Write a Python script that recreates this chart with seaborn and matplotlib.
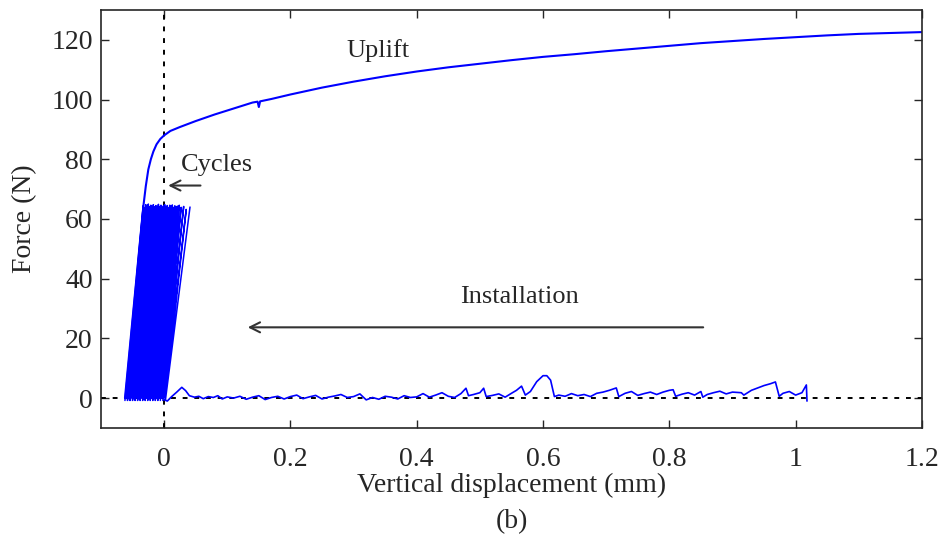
import numpy as np
import pandas as pd
import matplotlib
matplotlib.use("Agg")
import matplotlib.pyplot as plt
import seaborn as sns

# ---- Data ----
# Installation phase (displacement mm, force N)
inst_x = [0.000, 0.005, 0.012, 0.020, 0.028, 0.034, 0.040, 0.048, 0.055, 0.062, 0.070, 0.078,
          0.085, 0.092, 0.100, 0.110, 0.120, 0.130, 0.140, 0.150, 0.160, 0.170, 0.180, 0.190,
          0.200, 0.210, 0.220, 0.230, 0.240, 0.250, 0.260, 0.270, 0.280, 0.290, 0.300, 0.310,
          0.320, 0.330, 0.340, 0.350, 0.360, 0.370, 0.380, 0.390, 0.400, 0.410, 0.420, 0.430,
          0.440, 0.450, 0.460, 0.470, 0.478, 0.482, 0.490, 0.500, 0.506, 0.510, 0.520, 0.530,
          0.540, 0.550, 0.558, 0.566, 0.572, 0.580, 0.590, 0.600, 0.606, 0.612, 0.618, 0.625,
          0.635, 0.645, 0.655, 0.665, 0.675, 0.685, 0.695, 0.705, 0.716, 0.720, 0.730, 0.740,
          0.750, 0.760, 0.770, 0.780, 0.790, 0.800, 0.806, 0.810, 0.820, 0.830, 0.840, 0.850,
          0.853, 0.860, 0.870, 0.880, 0.890, 0.900, 0.914, 0.918, 0.930, 0.940, 0.950, 0.960,
          0.968, 0.974, 0.980, 0.990, 1.000, 1.010, 1.017, 1.018]
inst_y = [-0.5, -1.0, 0.5, 2.0, 3.6, 2.5, 0.8, 0.3, 0.6, -0.2, 0.5, 0.2,
          0.8, -0.3, 0.4, 0.0, 0.6, -0.4, 0.3, 0.8, -0.5, 0.2, 0.6, -0.3,
          0.5, 1.0, -0.2, 0.4, 0.9, -0.3, 0.3, 0.7, 1.2, 0.2, 0.5, 1.4,
          -0.6, 0.2, -0.4, 0.6, 0.3, -0.3, 0.8, 0.2, 0.4, 1.5, 0.3, 1.0,
          1.8, 0.6, 0.2, 1.5, 3.3, 0.8, 1.2, 1.8, 3.3, 0.5, 0.9, 1.4,
          0.3, 1.6, 2.6, 4.0, 1.0, 2.2, 5.5, 7.5, 7.5, 6.0, 0.5, 1.0,
          0.6, 1.5, 0.8, 1.2, 0.5, 1.6, 2.0, 2.6, 3.4, 0.5, 1.6, 2.2,
          0.9, 1.5, 2.0, 1.2, 2.0, 2.6, 2.8, 0.6, 1.3, 1.8, 1.0, 2.2,
          0.3, 1.2, 1.8, 2.3, 1.4, 2.0, 1.8, 1.0, 2.6, 3.4, 4.2, 4.8,
          5.4, 0.6, 1.6, 2.2, 1.0, 1.8, 4.4, -1.0]

# Cyclic loading: foot (force ~0) and peak (force ~64) displacements of each cycle
cyc_foot_x = [-0.062, -0.060, -0.058, -0.056, -0.054, -0.052, -0.050, -0.048, -0.046, -0.044,
              -0.042, -0.040, -0.038, -0.036, -0.034, -0.032, -0.030, -0.028, -0.026, -0.024,
              -0.022, -0.020, -0.018, -0.016, -0.014, -0.012, -0.010, -0.008, -0.006, -0.004,
              -0.002, 0.000, 0.002]
cyc_peak_x = [-0.033, -0.031, -0.029, -0.027, -0.025, -0.023, -0.021, -0.019, -0.017, -0.015,
              -0.013, -0.011, -0.009, -0.007, -0.005, -0.003, -0.001, 0.001, 0.003, 0.005,
              0.007, 0.009, 0.011, 0.013, 0.015, 0.017, 0.019, 0.021, 0.024, 0.027,
              0.031, 0.035, 0.041]
cyc_peak_y = [64.5, 63.8, 64.8, 64.0, 65.0, 64.2, 64.6, 63.9, 64.8, 64.1, 64.5, 63.7, 64.9, 64.2,
              64.6, 63.9, 64.4, 64.8, 64.0, 64.5, 63.8, 64.6, 64.2, 64.7, 63.9, 64.4, 64.0, 64.3,
              64.6, 63.9, 64.2, 63.2, 64.0]

# Uplift (monotonic pull-out)
up_x = [-0.062, -0.033, -0.029, -0.025, -0.021, -0.017, -0.012, -0.006, 0.000,
        0.010, 0.025, 0.050, 0.080, 0.110, 0.140, 0.148, 0.150, 0.152, 0.170, 0.200, 0.250, 0.300,
        0.350, 0.400, 0.450, 0.500, 0.550, 0.600, 0.650, 0.700, 0.750, 0.800, 0.850,
        0.900, 0.950, 1.000, 1.050, 1.100, 1.150, 1.200]
up_y = [0.0, 64.0, 71.0, 76.6, 80.0, 82.6, 85.0, 86.8, 88.0,
        89.5, 90.8, 92.8, 95.0, 97.0, 99.0, 99.3, 97.5, 99.4, 100.2, 101.7, 104.0, 106.0,
        107.8, 109.4, 110.8, 112.0, 113.2, 114.3, 115.2, 116.2, 117.1, 118.0, 118.9,
        119.6, 120.3, 120.9, 121.5, 122.0, 122.3, 122.6]

xlim = (-0.1, 1.2)
ylim = (-10, 130)
xticks = [0, 0.2, 0.4, 0.6, 0.8, 1.0, 1.2]
xticklabels = ["0", "0.2", "0.4", "0.6", "0.8", "1", "1.2"]
yticks = [0, 20, 40, 60, 80, 100, 120]

# ---- Build frames ----
cx, cy = [], []
for i in range(len(cyc_foot_x)):
    cx += [cyc_foot_x[i], cyc_peak_x[i]]
    cy += [0.0 if i % 2 else -0.8, cyc_peak_y[i]]
df_cyc = pd.DataFrame({"x": cx, "y": cy})
df_inst = pd.DataFrame({"x": inst_x, "y": inst_y})
df_up = pd.DataFrame({"x": up_x, "y": up_y})

sns.set_style("ticks")
plt.rcParams["font.family"] = ["Liberation Serif", "DejaVu Serif"]

fig = plt.figure(figsize=(9.48, 5.41), dpi=100)
ax = fig.add_axes([0.1065, 0.209, 0.866, 0.7725])

blue = "#0000ff"
ax.axhline(0, color="black", ls=(0, (2.5, 3.5)), lw=1.4, zorder=1)
ax.axvline(0, color="black", ls=(0, (2.5, 3.5)), lw=1.4, zorder=1)

sns.lineplot(data=df_inst, x="x", y="y", sort=False, estimator=None, color=blue, lw=1.2, ax=ax, zorder=2)
sns.lineplot(data=df_cyc, x="x", y="y", sort=False, estimator=None, color=blue, lw=1.1, ax=ax, zorder=2)
sns.lineplot(data=df_up, x="x", y="y", sort=False, estimator=None, color=blue, lw=1.5, ax=ax, zorder=2)

ax.set_xlim(*xlim)
ax.set_ylim(*ylim)
ax.set_xticks(xticks)
ax.set_xticklabels(xticklabels)
ax.set_yticks(yticks)
ax.tick_params(direction="in", length=6, width=1, labelsize=20, top=True, right=True)
ax.tick_params(axis="x", pad=14)
ax.tick_params(axis="y", pad=6)
for s in ax.spines.values():
    s.set_linewidth(1.2)
    s.set_visible(True)

ax.set_xlabel("Vertical displacement (mm)", fontsize=20, labelpad=0)
ax.set_ylabel("Force (N)", fontsize=20, labelpad=10)

ax.text(0.338, 116.5, "Uplift", fontsize=19, ha="center", va="center")
ax.text(0.084, 78.0, "Cycles", fontsize=19, ha="center", va="center")
ax.text(0.562, 33.8, "Installation", fontsize=19, ha="center", va="center")
ax.annotate("", xy=(0.002, 71.2), xytext=(0.062, 71.2),
            arrowprops=dict(arrowstyle="->", color="#333333", lw=1.5, mutation_scale=18))
ax.annotate("", xy=(0.128, 23.7), xytext=(0.858, 23.7),
            arrowprops=dict(arrowstyle="->", color="#333333", lw=1.5, mutation_scale=18))

fig.text(0.54, 0.035, "(b)", fontsize=20, ha="center", va="center")

fig.savefig("out.png", dpi=100)
